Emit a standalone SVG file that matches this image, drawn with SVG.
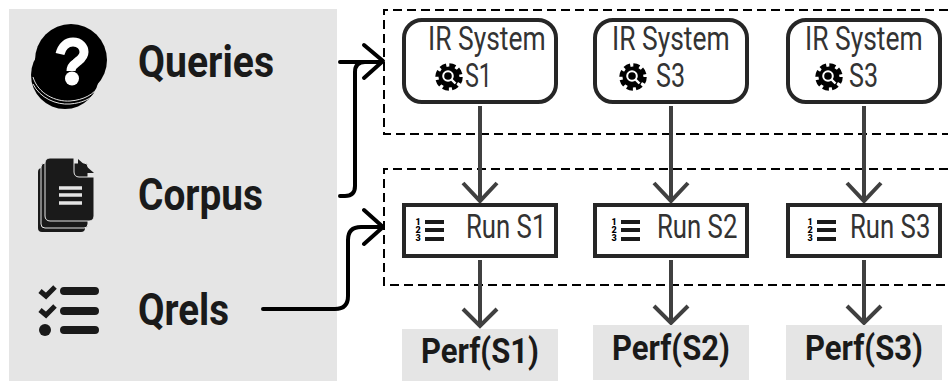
<svg xmlns="http://www.w3.org/2000/svg" width="948" height="381" viewBox="0 0 948 381">
<style>
text{font-family:"Roboto","Liberation Sans",sans-serif;fill:#262626}
.src{font-size:45px;font-weight:700;fill:#1a1a1a}
.perf{font-size:35px;font-weight:700;fill:#1a1a1a}
.lab{font-size:33px;font-weight:400;fill:#333}
.num{font-size:9px;font-weight:900;fill:#000}
.panel{fill:#e5e5e5}
.sys{fill:#fff;stroke:#262626;stroke-width:4}
.dash{fill:none;stroke:#000;stroke-width:2;stroke-dasharray:9 5}
.gray{fill:none;stroke:#404040;stroke-width:4}
.blk{fill:none;stroke:#000;stroke-width:4;stroke-linecap:round;stroke-linejoin:round}
</style>
<defs>
<g id="gear">
<circle r="11.500" fill="none" stroke="#000" stroke-width="4.500" stroke-dasharray="6 3.03"/>
<circle r="10.500" fill="#000"/>
<circle cx="-1" cy="-1" r="4.800" fill="none" stroke="#fff" stroke-width="2"/>
<path d="M2.500 2.500L6.500 6.500" stroke="#fff" stroke-width="2.400"/>
</g>
<g id="rank">
<text class="num" x="0" y="8" text-anchor="middle">1</text>
<text class="num" x="0" y="16" text-anchor="middle">2</text>
<text class="num" x="0" y="24" text-anchor="middle">3</text>
<path d="M7 5H26M7 13H26M7 22H26" stroke="#1a1a1a" stroke-width="4"/>
</g>
</defs>

<g id="sources-panel">
<rect class="panel" x="9" y="9" width="328" height="372"/>
</g>
<g id="queries">
<ellipse cx="65" cy="75" rx="34" ry="34" fill="#000"/>
<path d="M33 77C38 94 56 102 70 101C84 100 94 94 99 86M33 84C40 98 56 105 70 104C82 103 90 99 95 94" fill="none" stroke="#e5e5e5" stroke-width="1"/>
<circle cx="71" cy="60" r="36" fill="#000"/>
<path d="M60 54C62 46 67 42 73 42C80 42 84 47 84 52C84 58 79 60 76 63C73 65 71 67 71 71" fill="none" stroke="#fff" stroke-width="9"/>
<circle cx="72" cy="78.500" r="7" fill="#fff"/>
<text class="src" x="138" y="77" textLength="136" lengthAdjust="spacingAndGlyphs">Queries</text>
</g>
<g id="corpus">
<rect x="38" y="168" width="47" height="64" rx="4" fill="#1a1a1a"/>
<rect x="41" y="163" width="47" height="65" rx="4" fill="#1a1a1a" stroke="#e5e5e5" stroke-width="1"/>
<path d="M50 158H74V172C74 175 76 177 79 177H94V216C94 219 92 221 89 221H50C47 221 45 219 45 216V163C45 160 47 158 50 158Z" fill="#1a1a1a" stroke="#e5e5e5" stroke-width="1"/>
<path d="M78 159L94 173H78Z" fill="#1a1a1a"/>
<path d="M59 188H82M59 195H82M59 203H82" stroke="#e5e5e5" stroke-width="3.500"/>
<text class="src" x="138" y="210" textLength="125" lengthAdjust="spacingAndGlyphs">Corpus</text>
</g>
<g id="qrels">
<path d="M40 291L46 296L55 287M40 310L46 315L55 306" fill="none" stroke="#1a1a1a" stroke-width="5"/>
<circle cx="45" cy="330" r="6" fill="#1a1a1a"/>
<path d="M64 291H95M64 311H95M64 330H95" stroke="#1a1a1a" stroke-width="8" stroke-linecap="round"/>
<text class="src" x="138" y="325" textLength="91" lengthAdjust="spacingAndGlyphs">Qrels</text>
</g>

<g id="group-systems"><path class="dash" d="M948 10H384V134H948"/></g>
<g id="group-runs"><path class="dash" d="M948 169H384V285H948"/></g>

<g id="connectors">
<path class="gray" d="M480 106V200M463 183L480 201L497 183M480 260V325M463 309L480 326L497 309"/>
<path class="gray" d="M671 106V200M654 183L671 201L688 183M671 260V322M654 306L671 323L688 306"/>
<path class="gray" d="M864 106V200M847 183L864 201L881 183M864 260V322M847 306L864 323L881 306"/>
<path class="blk" d="M340 62H381M364 45L383 61L364 78"/>
<path class="blk" d="M340 196H345Q355 196 355 186V72Q355 62 365 62"/>
<path class="blk" d="M263 309H335Q348 309 348 296V240Q348 227 361 227H381M364 210L383 227L364 244"/>
</g>

<g id="ir-s1"><rect class="sys" x="404" y="20" width="152" height="82" rx="18"/>
<text class="lab" transform="translate(428 50) scale(.8 1)">IR System</text>
<use href="#gear" x="449" y="77"/>
<text class="lab" x="465" y="87" textLength="27" lengthAdjust="spacingAndGlyphs">S1</text></g>
<g id="ir-s2"><rect class="sys" x="595" y="20" width="152" height="82" rx="18"/>
<text class="lab" transform="translate(612 50) scale(.8 1)">IR System</text>
<use href="#gear" x="633" y="77"/>
<text class="lab" x="656" y="87" textLength="29" lengthAdjust="spacingAndGlyphs">S3</text></g>
<g id="ir-s3"><rect class="sys" x="788" y="20" width="152" height="82" rx="18"/>
<text class="lab" transform="translate(805 50) scale(.8 1)">IR System</text>
<use href="#gear" x="829" y="77"/>
<text class="lab" x="849" y="87" textLength="29" lengthAdjust="spacingAndGlyphs">S3</text></g>

<g id="run-s1"><rect class="sys" x="404" y="205" width="152" height="51"/>
<use href="#rank" x="418" y="217"/>
<text class="lab" transform="translate(466 238) scale(.78 1)">Run S1</text></g>
<g id="run-s2"><rect class="sys" x="595" y="205" width="152" height="51"/>
<use href="#rank" x="614" y="217"/>
<text class="lab" transform="translate(657 238) scale(.78 1)">Run S2</text></g>
<g id="run-s3"><rect class="sys" x="788" y="205" width="152" height="51"/>
<use href="#rank" x="810" y="217"/>
<text class="lab" transform="translate(850 238) scale(.78 1)">Run S3</text></g>

<g id="perf-s1"><rect class="panel" x="402" y="329" width="156" height="52"/>
<text class="perf" x="421" y="363" textLength="118" lengthAdjust="spacingAndGlyphs">Perf(S1)</text></g>
<g id="perf-s2"><rect class="panel" x="593" y="325" width="156" height="55"/>
<text class="perf" x="612" y="360" textLength="118" lengthAdjust="spacingAndGlyphs">Perf(S2)</text></g>
<g id="perf-s3"><rect class="panel" x="786" y="325" width="156" height="55"/>
<text class="perf" x="805" y="360" textLength="118" lengthAdjust="spacingAndGlyphs">Perf(S3)</text></g>
</svg>
